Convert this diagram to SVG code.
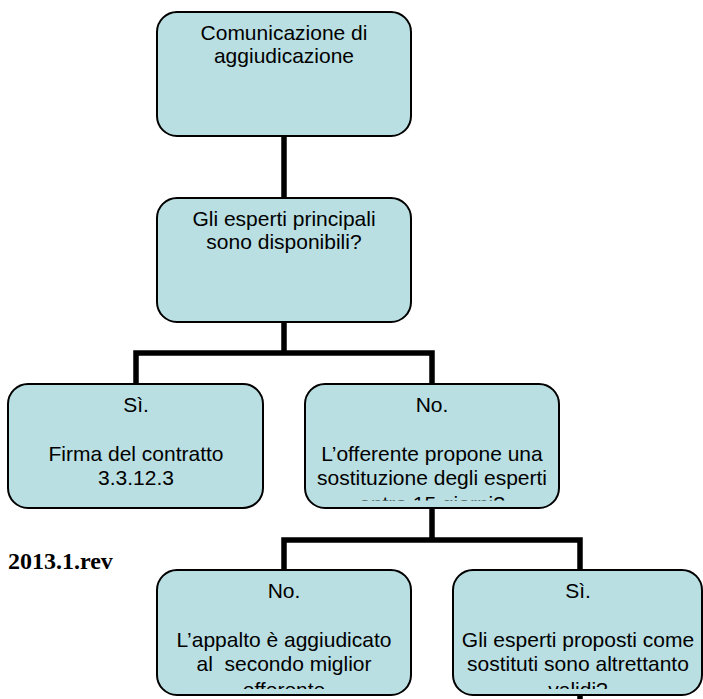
<svg xmlns="http://www.w3.org/2000/svg" width="703" height="699" viewBox="0 0 703 699">
<style>
.box{fill:#B9DFE2;stroke:#000;stroke-width:2}
.t{font-family:"Liberation Sans",Arial,sans-serif;font-size:21px;fill:#000;text-anchor:middle}
.c{fill:none;stroke:#000;stroke-width:5.5;stroke-linejoin:miter;stroke-linecap:butt}
</style>
<defs>
<clipPath id="clip4"><rect x="305" y="384" width="254" height="116.5"/></clipPath>
<clipPath id="clip5"><rect x="157" y="570" width="254" height="119"/></clipPath>
<clipPath id="clip6"><rect x="453" y="570" width="249" height="119"/></clipPath>
</defs>
<rect width="703" height="699" fill="#fff"/>
<g id="connectors">
<path class="c" d="M284 136V198"/>
<path class="c" d="M284 322V353"/>
<path class="c" d="M136 384V353H432V384"/>
<path class="c" d="M432 508V540"/>
<path class="c" d="M284 570V540H580V570"/>
<path class="c" d="M580 695V699"/>
</g>
<g id="n1">
<rect class="box" x="157" y="12" width="254" height="124" rx="20"/>
<text class="t" x="284" y="40">Comunicazione di</text>
<text class="t" x="284" y="63">aggiudicazione</text>
</g>
<g id="n2">
<rect class="box" x="157" y="198" width="254" height="124" rx="20"/>
<text class="t" x="284" y="226">Gli esperti principali</text>
<text class="t" x="284" y="249">sono disponibili?</text>
</g>
<g id="n3">
<rect class="box" x="8" y="384" width="255" height="124" rx="20"/>
<text class="t" x="136" y="412">Sì.</text>
<text class="t" x="136" y="461">Firma del contratto</text>
<text class="t" x="136" y="485">3.3.12.3</text>
</g>
<g id="n4">
<rect class="box" x="305" y="384" width="254" height="124" rx="20"/>
<g clip-path="url(#clip4)">
<text class="t" x="432" y="412">No.</text>
<text class="t" x="432" y="461">L’offerente propone una</text>
<text class="t" x="432" y="485">sostituzione degli esperti</text>
<text class="t" x="432" y="510.5">entro 15 giorni?</text>
</g>
</g>
<g id="n5">
<rect class="box" x="157" y="570" width="254" height="125" rx="20"/>
<g clip-path="url(#clip5)">
<text class="t" x="284" y="598">No.</text>
<text class="t" x="284" y="647">L’appalto è aggiudicato</text>
<text class="t" x="284" y="671" xml:space="preserve">al  secondo miglior</text>
<text class="t" x="284" y="697">offerente</text>
</g>
</g>
<g id="n6">
<rect class="box" x="453" y="570" width="249" height="125" rx="20"/>
<g clip-path="url(#clip6)">
<text class="t" x="578" y="598">Sì.</text>
<text class="t" x="578" y="647">Gli esperti proposti come</text>
<text class="t" x="578" y="671">sostituti sono altrettanto</text>
<text class="t" x="578" y="697">validi?</text>
</g>
</g>
<text id="rev" x="8" y="569" font-family="'Liberation Serif','Times New Roman',serif" font-weight="bold" font-size="24">2013.1.rev</text>
</svg>
